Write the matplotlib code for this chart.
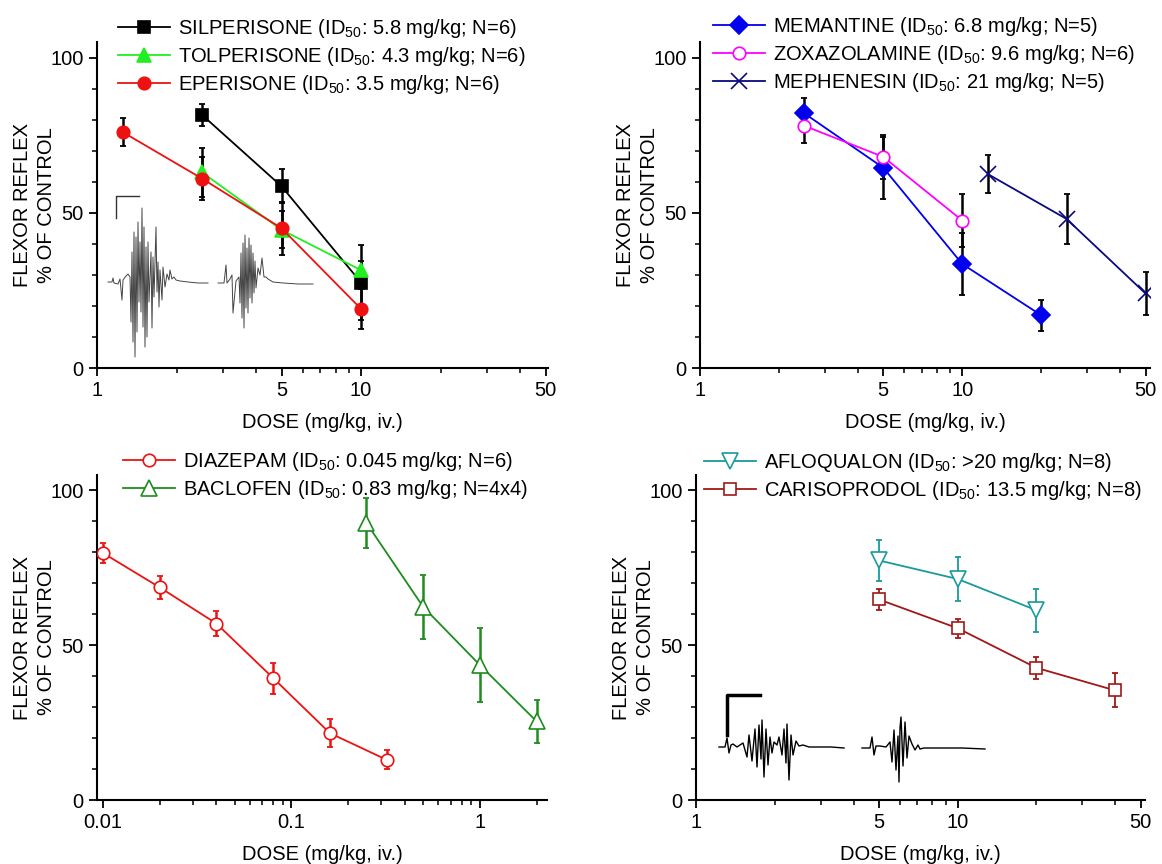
import numpy as np
import matplotlib
matplotlib.use("Agg")
import matplotlib.pyplot as plt
from matplotlib.ticker import LogLocator, FixedLocator, NullFormatter, FixedFormatter

plt.rcParams["font.family"] = ["Liberation Sans", "DejaVu Sans"]
plt.rcParams["mathtext.default"] = "regular"

# =========================
# data (dose mg/kg, % of control, SEM)
# =========================
silp_dose = [2.5, 5, 10]
silp_val = [81.5, 58.5, 27.5]
silp_err = [3.5, 5.5, 12]

tolp_dose = [2.5, 5, 10]
tolp_val = [63, 44.5, 31.5]
tolp_err = [8, 6, 3]

eper_dose = [1.25, 2.5, 5, 10]
eper_val = [76, 61, 45, 19]
eper_err = [4.5, 7, 8.5, 6.5]

mema_dose = [2.5, 5, 10, 20]
mema_val = [82, 64.5, 33.5, 17]
mema_err = [5, 10, 10, 5]

zoxa_dose = [2.5, 5, 10]
zoxa_val = [78, 68, 47.5]
zoxa_err = [5.5, 7, 8.5]

meph_dose = [12.5, 25, 50]
meph_val = [62.5, 48, 24]
meph_err = [6, 8, 7]

diaz_dose = [0.01, 0.02, 0.04, 0.08, 0.16, 0.32]
diaz_val = [79.8, 68.7, 57, 39.4, 21.6, 13]
diaz_err = [3.3, 3.8, 4, 5, 4.6, 3]

bacl_dose = [0.25, 0.5, 1, 2]
bacl_val = [89.5, 62.4, 43.6, 25.4]
bacl_err = [8, 10.3, 12, 7]

aflo_dose = [5, 10, 20]
aflo_val = [77.4, 71.4, 61.3]
aflo_err = [6.5, 7, 7]

cari_dose = [5, 10, 20, 40]
cari_val = [64.8, 55.5, 42.7, 35.4]
cari_err = [3.5, 3, 3.5, 5.5]

labels_a = ["SILPERISONE (ID$_{50}$: 5.8 mg/kg; N=6)",
            "TOLPERISONE (ID$_{50}$: 4.3 mg/kg; N=6)",
            "EPERISONE (ID$_{50}$: 3.5 mg/kg; N=6)"]
labels_b = ["MEMANTINE (ID$_{50}$: 6.8 mg/kg; N=5)",
            "ZOXAZOLAMINE (ID$_{50}$: 9.6 mg/kg; N=6)",
            "MEPHENESIN (ID$_{50}$: 21 mg/kg; N=5)"]
labels_c = ["DIAZEPAM (ID$_{50}$: 0.045 mg/kg; N=6)",
            "BACLOFEN (ID$_{50}$: 0.83 mg/kg; N=4x4)"]
labels_d = ["AFLOQUALON (ID$_{50}$: >20 mg/kg; N=8)",
            "CARISOPRODOL (ID$_{50}$: 13.5 mg/kg; N=8)"]

# reflex traces (pixel offset along, amplitude above baseline)
trace_a1_t = [0, 4, 5, 6, 10, 12, 14, 15, 18, 20, 22, 23, 24, 25, 26, 27, 28, 29, 30, 31,
              32, 33, 34, 35, 36, 37, 38, 39, 40, 41, 43, 44, 45, 46, 48, 49, 50, 51, 52, 54,
              55, 57, 59, 61, 62, 64, 66, 68, 72, 80, 90, 100]
trace_a1_y = [0, 0, 4, -1, -2, 3, -18, 2, 6, 8, 5, -40, 30, -60, 50, -75, 45, -50, 60, -20,
              40, -30, 74, -45, 55, -65, 35, -55, 40, -20, 30, -46, 25, -15, 55, -10, 20, -25, 12, -18,
              15, -5, 8, 2, 12, 3, 5, 2, 1, 0, -1, -1]
trace_a2_t = [0, 6, 8, 9, 12, 14, 15, 18, 21, 22, 23, 24, 25, 26, 27, 28, 29, 30, 31, 32,
              33, 34, 35, 36, 37, 38, 40, 42, 44, 46, 48, 50, 55, 65, 80, 95]
trace_a2_y = [0, 0, 18, 0, 4, 8, -30, 2, 6, -20, 30, -35, 40, -45, 48, -25, 35, -30, 45, -15,
              38, -20, 30, -10, 22, -5, 15, 8, 25, 6, 6, 4, 1, 0, -1, -1]
trace_d1_t = [0, 6, 8, 10, 12, 14, 18, 24, 28, 30, 33, 36, 38, 40, 42, 43, 45, 47, 49, 51,
              53, 55, 58, 60, 63, 65, 67, 68, 70, 72, 74, 77, 80, 84, 90, 100, 112, 125]
trace_d1_y = [0, 0, 9, -6, 2, 3, 0, 4, -10, 12, -14, 18, -20, 22, -12, 27, -30, 18, -18, 10,
              -6, 5, 2, 10, -8, 18, -16, 23, -33, 12, -8, 6, 1, 2, 0, 0, 0, -1]
trace_d2_t = [0, 8, 10, 12, 14, 18, 24, 28, 30, 32, 34, 36, 37, 38, 39, 41, 43, 45, 47, 50,
              53, 56, 58, 62, 70, 85, 100, 123]
trace_d2_y = [0, 0, 11, -7, 2, 2, 1, 6, -14, 18, -22, 12, -34, 20, 31, -18, 26, -10, 12, 4,
              -2, 3, -1, 0, 0, 0, 0, -1]

# scale bars (x list, y list) in picture pixels
scale_a_x, scale_a_y = [139, 116, 116], [196, 196, 218]
scale_d_x, scale_d_y = [760, 727, 727], [695, 695, 735]

W, H = 1162, 864
FS = 14.5
fig = plt.figure(figsize=(W / 100, H / 100), dpi=100)


def px_axes(x0, y0, x1, y1):
    return fig.add_axes([x0 / W, 1 - y1 / H, (x1 - x0) / W, (y1 - y0) / H])


def style(ax, xlim, majors, majlabels):
    ax.set_xscale("log")
    ax.set_xlim(*xlim)
    ax.set_ylim(0, 105)
    for s in ["top", "right"]:
        ax.spines[s].set_visible(False)
    for s in ["left", "bottom"]:
        ax.spines[s].set_linewidth(1.5)
    ax.xaxis.set_major_locator(FixedLocator(majors))
    ax.xaxis.set_major_formatter(FixedFormatter(majlabels))
    ax.xaxis.set_minor_locator(LogLocator(base=10, subs=np.arange(1, 10)))
    ax.xaxis.set_minor_formatter(NullFormatter())
    ax.set_yticks([0, 50, 100])
    ax.set_yticks(np.arange(0, 101, 10), minor=True)
    ax.tick_params(which="major", direction="out", length=6, width=1.3, labelsize=FS)
    ax.tick_params(which="minor", direction="out", length=3.5, width=1.1)
    ax.set_xlabel("DOSE (mg/kg, iv.)", fontsize=FS, labelpad=9)
    ax.set_ylabel("FLEXOR REFLEX\n% OF CONTROL", fontsize=FS, labelpad=-4, linespacing=1.35)


def series(ax, x, y, e, color, marker, ms, label, ecolor=None, mfc=None, elw=1.8):
    ax.errorbar(x, y, yerr=e, fmt="none", ecolor=ecolor or color, elinewidth=elw,
                capsize=2, capthick=1.3, zorder=2)
    ax.plot(x, y, color=color, lw=1.3, marker=marker, ms=ms, mfc=mfc or color,
            mec=color, mew=1.2, label=label, zorder=3)


def legend(ax, x, y):
    ax.legend(loc="upper left", bbox_to_anchor=(x / W, 1 - y / H), bbox_transform=fig.transFigure,
              frameon=False, fontsize=FS, handlelength=2.6, handletextpad=0.4,
              labelspacing=0.25, borderpad=0, borderaxespad=0)


# panel A
axA = px_axes(97, 42, 548, 368)
style(axA, (1, 51), [1, 5, 10, 50], ["1", "5", "10", "50"])
series(axA, silp_dose, silp_val, silp_err, "black", "s", 8, labels_a[0])
series(axA, tolp_dose, tolp_val, tolp_err, "#22ee22", "^", 10, labels_a[1], ecolor="black")
series(axA, eper_dose, eper_val, eper_err, "#ee1111", "o", 9, labels_a[2], ecolor="black")
legend(axA, 118, 17)

# panel B
axB = px_axes(700, 42, 1150, 368)
style(axB, (1, 52), [1, 5, 10, 50], ["1", "5", "10", "50"])
series(axB, mema_dose, mema_val, mema_err, "#0000ee", "D", 9, labels_b[0], ecolor="black")
series(axB, zoxa_dose, zoxa_val, zoxa_err, "#ff00ff", "o", 9, labels_b[1], ecolor="black", mfc="white")
series(axB, meph_dose, meph_val, meph_err, "#0a0a80", "x", 12, labels_b[2], ecolor="black")
legend(axB, 713, 15)

# panel C
axC = px_axes(97, 475, 547, 800)
style(axC, (0.0093, 2.27), [0.01, 0.1, 1], ["0.01", "0.1", "1"])
series(axC, diaz_dose, diaz_val, diaz_err, "#ee1111", "o", 9, labels_c[0], mfc="white")
series(axC, bacl_dose, bacl_val, bacl_err, "#1e8c1e", "^", 12, labels_c[1], mfc="white")
legend(axC, 123, 450)

# panel D
axD = px_axes(696, 475, 1145, 800)
style(axD, (1, 52), [1, 5, 10, 50], ["1", "5", "10", "50"])
series(axD, aflo_dose, aflo_val, aflo_err, "#1a9a9a", "v", 12, labels_d[0], mfc="white", elw=1.3)
series(axD, cari_dose, cari_val, cari_err, "#a01818", "s", 9, labels_d[1], mfc="white", elw=1.3)
legend(axD, 704, 451)

# overlay for reflex traces
ov = fig.add_axes([0, 0, 1, 1], zorder=10)
ov.set_xlim(0, W)
ov.set_ylim(H, 0)
ov.axis("off")
ov.plot(np.add(trace_a1_t, 108), np.subtract(282, trace_a1_y), color="#444444", lw=0.7)
ov.plot(np.add(trace_a2_t, 218), np.subtract(283, trace_a2_y), color="#444444", lw=0.7)
ov.plot(scale_a_x, scale_a_y, color="#333333", lw=1.0)
ov.plot(np.add(trace_d1_t, 719), np.subtract(747, trace_d1_y), color="black", lw=1.0)
ov.plot(np.add(trace_d2_t, 862), np.subtract(748, trace_d2_y), color="black", lw=1.0)
ov.plot(scale_d_x, scale_d_y, color="black", lw=2.5)

fig.savefig("out.png", dpi=100)
